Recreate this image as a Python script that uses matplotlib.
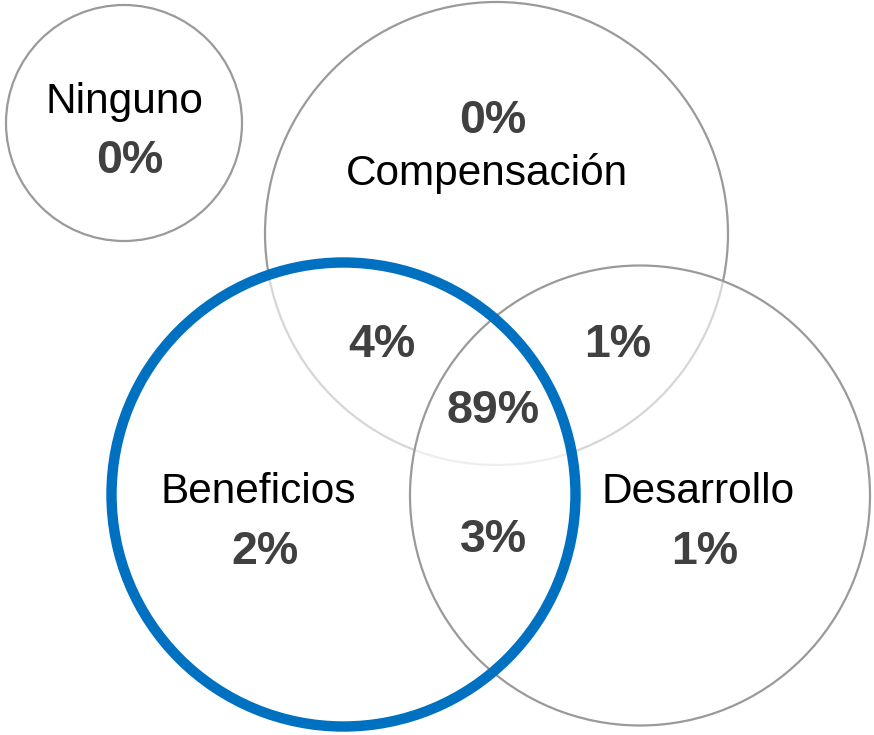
import matplotlib
matplotlib.use("Agg")
import matplotlib.pyplot as plt
from matplotlib.patches import Circle

# Data
set_names = ["Ninguno", "Compensación", "Beneficios", "Desarrollo"]
set_only_values = ["0%", "0%", "2%", "1%"]
overlap_labels = ["Compensación∩Beneficios", "Compensación∩Desarrollo",
                  "Todos", "Beneficios∩Desarrollo"]
overlap_values = ["4%", "1%", "89%", "3%"]

plt.rcParams['font.family'] = ['Liberation Sans', 'DejaVu Sans']

fig = plt.figure(figsize=(8.74, 7.35), dpi=100)
ax = fig.add_axes([0, 0, 1, 1])
ax.set_xlim(0, 874)
ax.set_ylim(735, 0)
ax.set_aspect('equal')
ax.axis('off')

gray = '#9a9a9a'
blue = '#0070C0'
dark = '#404040'

circles = {
    "Ninguno": (124, 123, 118),
    "Compensación": (496.5, 233.5, 231.5),
    "Beneficios": (343.5, 494.5, 232),
    "Desarrollo": (640, 495.5, 230),
}

# Ninguno and Compensación outlines
for name in ["Ninguno", "Compensación"]:
    x, y, r = circles[name]
    ax.add_patch(Circle((x, y), r, facecolor='none', edgecolor=gray, lw=1.6, zorder=1))

# semi-transparent white fills (lighten Compensación arc inside)
for name in ["Beneficios", "Desarrollo"]:
    x, y, r = circles[name]
    ax.add_patch(Circle((x, y), r, facecolor='white', edgecolor='none', alpha=0.6, zorder=2))

x, y, r = circles["Desarrollo"]
ax.add_patch(Circle((x, y), r, facecolor='none', edgecolor=gray, lw=1.6, zorder=3))
x, y, r = circles["Beneficios"]
ax.add_patch(Circle((x, y), r, facecolor='none', edgecolor=blue, lw=7.5, zorder=4))

name_fs = 30.5
val_fs = 33.5

# Set names and only-values
name_pos = {"Ninguno": (124, 102), "Compensación": (487, 173),
            "Beneficios": (258, 492), "Desarrollo": (698, 492)}
val_pos = {"Ninguno": (130, 161), "Compensación": (493, 121),
           "Beneficios": (265, 552), "Desarrollo": (705, 552)}
for name, v in zip(set_names, set_only_values):
    ax.text(*name_pos[name], name, ha='center', va='center', fontsize=name_fs,
            color='black', zorder=5)
    ax.text(*val_pos[name], v, ha='center', va='center', fontsize=val_fs,
            fontweight='bold', color=dark, zorder=5)

ov_pos = [(382, 345), (618, 345), (493, 411), (494, 540)]
for (px, py), v in zip(ov_pos, overlap_values):
    ax.text(px, py, v, ha='center', va='center', fontsize=val_fs,
            fontweight='bold', color=dark, zorder=5)

fig.savefig("out.png", dpi=100, facecolor='white')
